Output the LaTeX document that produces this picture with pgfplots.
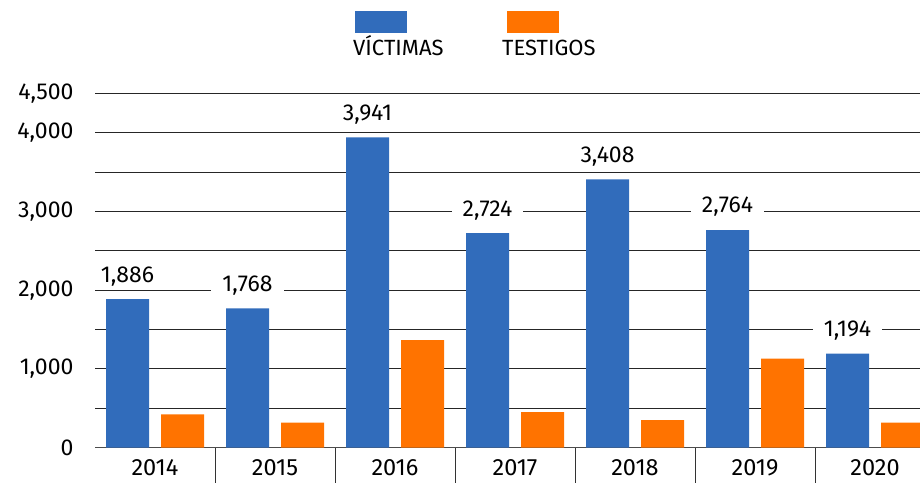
\documentclass[border=0pt]{standalone}
\usepackage{pgfplots}
\pgfplotsset{compat=1.18}
\usepackage{fontspec}
\setmainfont{Fira Sans}
\definecolor{cblue}{RGB}{49,108,187}
\definecolor{corange}{RGB}{255,115,0}
\begin{document}
\begin{tikzpicture}[x=1pt,y=1pt]
\useasboundingbox (0,0) rectangle (920,483);
\begin{axis}[
  at={(95pt,35.3pt)}, anchor=south west,
  scale only axis, width=825pt, height=354.4pt,
  xmin=-0.5, xmax=6.375, ymin=0, ymax=4500,
  ybar, bar width=43pt,
  axis x line*=bottom, axis y line*=left,
  y axis line style={draw=none},
  x axis line style={draw=black!70, line width=1pt, -},
  ytick={0,500,...,4500},
  yticklabels={0,,1{,}000,,2{,}000,,3{,}000,,4{,}000,4{,}500},
  ytick style={draw=none},
  ymajorgrids, grid style={black!85, line width=0.9pt},
  xtick={0,1,2,3,4,5,6},
  xticklabels={2014,2015,2016,2017,2018,2019,2020},
  xtick style={draw=black!80, line width=1pt},
  major tick length=0pt,
  extra x ticks={0.5,1.5,2.5,3.5,4.5,5.5},
  extra x tick labels={},
  extra x tick style={major tick length=35pt, tick align=outside},
  yticklabel style={font=\fontsize{23}{25}\selectfont, xshift=-18pt},
  xticklabel style={font=\fontsize{23.5}{25}\selectfont, yshift=-8pt},
  /pgf/number format/assume math mode=true,
  /pgf/number format/1000 sep={,},
  clip=false,
]
\addplot[fill=cblue, draw=none, bar shift=-27.5pt,
  nodes near coords,
  every node near coord/.append style={anchor=center, yshift=23pt, fill=white, inner xsep=11pt, inner ysep=4pt, font=\fontsize{23}{25}\selectfont, text=black}]
  coordinates {(0,1886) (1,1768) (2,3941) (3,2724) (4,3408) (5,2764) (6,1194)};
\addplot[fill=corange, draw=none, bar shift=27.5pt]
  coordinates {(0,424) (1,317) (2,1367) (3,453) (4,351) (5,1130) (6,317)};
\end{axis}
\fill[cblue] (355,450) rectangle (407,472);
\fill[corange] (507,450) rectangle (559,472);
\node[anchor=base west, inner sep=0, font=\fontsize{22}{24}\selectfont] at (353,427) {VÍCTIMAS};
\node[anchor=base west, inner sep=0, font=\fontsize{22}{24}\selectfont] at (502,427) {TESTIGOS};
\end{tikzpicture}
\end{document}
